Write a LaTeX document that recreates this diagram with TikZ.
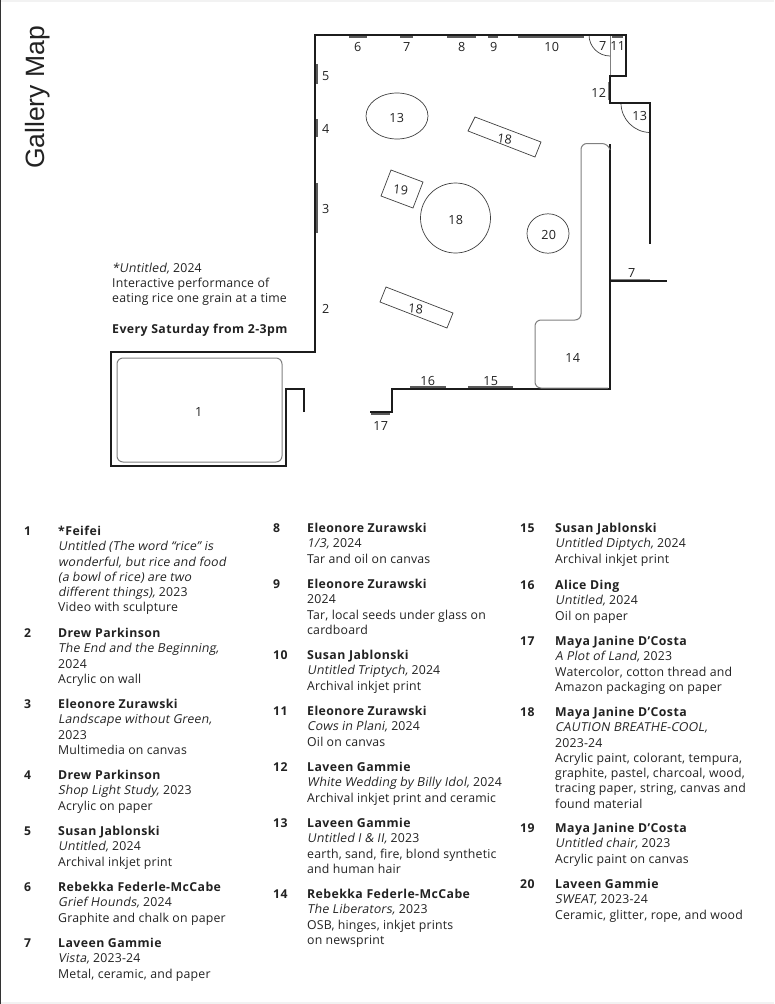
\documentclass[tikz,border=0pt]{standalone}
\usepackage{fontspec}
\setmainfont[LetterSpace=1.5,ItalicFont={Open Sans},ItalicFeatures={FakeSlant=0.18},BoldFeatures={LetterSpace=3.5}]{Open Sans}
\newfontfamily\titlefont{Liberation Sans}
\definecolor{wall}{HTML}{1C1C1C}
\definecolor{bar}{HTML}{5A5A5A}
\definecolor{ink}{HTML}{222222}
\tikzset{
  wallline/.style={draw=wall,line width=2.6pt,miter limit=10},
  barline/.style={draw=bar,line width=2.2pt},
  bench/.style={draw=black!50,line width=1pt},
  thinshape/.style={draw=black!75,line width=0.7pt},
  maplabel/.style={text=ink,font=\fontsize{12.6}{14}\selectfont,inner sep=0pt,xshift=0.7pt,yshift=-0.7pt},
  numlabel/.style={text=ink,font=\fontsize{12.2}{15.3}\selectfont\bfseries,inner sep=0pt,anchor=base west},
  entrytext/.style={text=ink,font=\fontsize{12.3}{15.3}\selectfont,inner sep=0pt,anchor=north west,align=left},
}
\newcommand{\lentry}[5]{% id, numx, textx, first-line centre y, text
  \node[numlabel] (num#1) at (#2,#4+5.2) {#1};
  \node[entrytext] (txt#1) at (#3,#4-4.8) {\rule{0pt}{10pt}#5};
}
\begin{document}
\begin{tikzpicture}[x=1pt,y=-1pt]
\useasboundingbox (0,0) rectangle (774,1004);
\fill[white] (0,0) rectangle (774,1004);
\fill[black!5] (0,0) rectangle (774,2);
\fill[black!5] (0,1002) rectangle (774,1004);
\fill[black!80] (0,0) rectangle (1,1004);

% title
\node[rotate=90,text=ink,inner sep=0pt,anchor=base,font=\titlefont\fontsize{26.5}{30}\selectfont] (title) at (44.5,97.5) {Gallery Map};

% thin interior lines
\draw[bench] (610,35) -- (610,76);
\draw[thinshape] (589,35) arc[start angle=180,end angle=90,radius=21];
\draw[thinshape] (621,103) arc[start angle=180,end angle=90,radius=29.5];

% wall-mounted works
\draw[barline] (349,37) -- (367,37);
\draw[barline] (400,37) -- (413,37);
\draw[barline] (447,37) -- (476,37);
\draw[barline] (488,37) -- (498,37);
\draw[barline] (518,37) -- (584,37);
\draw[barline] (612,37) -- (623,37);
\draw[barline] (317,64) -- (317,84);
\draw[barline] (317,119) -- (317,137);
\draw[barline] (317,183) -- (317,233);
\draw[bench] (608.5,82) -- (608.5,100);
\draw[bench] (611,279.5) -- (650,279.5);
\draw[barline] (410,387) -- (446,387);
\draw[barline] (468,387) -- (513,387);
\draw[barline] (371,413.5) -- (390,413.5);

% walls
\draw[wallline] (304,412) -- (304,389) -- (286,389) -- (286,466) -- (111,466) -- (111,352) -- (315,352) -- (315,35) -- (626,35) -- (626,76) -- (610,76) -- (610,103) -- (650,103) -- (650,244);
\draw[wallline] (370,412) -- (392,412) -- (392,389) -- (610,389) -- (610,144);
\draw[wallline] (610,281) -- (667,281);

% platforms
\draw[bench,rounded corners=6pt] (117,358) rectangle (282,462);
\draw[bench,rounded corners=6pt] (610,150) -- (608,143.5) -- (581,143.5) -- (581,320) -- (535,320) -- (535,388) -- (608,388);

% sculptures
\draw[thinshape] (397,116) ellipse[x radius=31,y radius=23];
\draw[thinshape] (455.5,218) circle[radius=35];
\draw[thinshape] (548,233.5) ellipse[x radius=21,y radius=19.7];
\draw[thinshape] (475,117) -- (541,142) -- (535,157) -- (468,131) -- cycle;
\draw[thinshape] (391,170) -- (423,182) -- (413,208) -- (381,196) -- cycle;
\draw[thinshape] (386,287) -- (453,313) -- (447,328) -- (380,302) -- cycle;

% map labels
\node[maplabel] (m6) at (357,46) {6};
\node[maplabel] (m7a) at (406,46) {7};
\node[maplabel] (m8) at (461,46) {8};
\node[maplabel] (m9) at (493,46) {9};
\node[maplabel] (m10) at (551,46) {10};
\node[maplabel] (m7b) at (602,45) {7};
\node[maplabel] (m11) at (617,45) {11};
\node[maplabel] (m5) at (325,75) {5};
\node[maplabel] (m4) at (325,128) {4};
\node[maplabel] (m3) at (325,208) {3};
\node[maplabel] (m2) at (325,308) {2};
\node[maplabel] (m13a) at (396,117) {13};
\node[maplabel,rotate=-8] (m18a) at (504,138) {18};
\node[maplabel] (m12) at (598,92) {12};
\node[maplabel] (m13b) at (639,115) {13};
\node[maplabel,rotate=-6] (m19) at (400,189) {19};
\node[maplabel] (m18b) at (455,219) {18};
\node[maplabel] (m20) at (548,234) {20};
\node[maplabel,rotate=-6] (m18c) at (415,308) {18};
\node[maplabel] (m7c) at (631,272) {7};
\node[maplabel] (m14) at (572,357) {14};
\node[maplabel] (m1) at (198,411) {1};
\node[maplabel] (m16) at (427,380) {16};
\node[maplabel] (m15) at (490,380) {15};
\node[maplabel] (m17) at (380,425) {17};

% performance note
\node[entrytext] (note) at (112,262) {\rule{0pt}{10pt}\textit{*Untitled,} 2024\\Interactive performance of\\eating rice one grain at a time\\[15.3pt]\textbf{Every Saturday from 2-3pm}};

% column 1
\lentry{1}{24}{58}{530}{\textbf{*Feifei}\\\textit{Untitled (The word “rice” is}\\\textit{wonderful, but rice and food}\\\textit{(a bowl of rice) are two}\\\textit{different things),} 2023\\Video with sculpture}
\lentry{2}{24}{58}{632}{\textbf{Drew Parkinson}\\\textit{The End and the Beginning,}\\2024\\Acrylic on wall}
\lentry{3}{24}{58}{703}{\textbf{Eleonore Zurawski}\\\textit{Landscape without Green,}\\2023\\Multimedia on canvas}
\lentry{4}{24}{58}{774}{\textbf{Drew Parkinson}\\\textit{Shop Light Study,} 2023\\Acrylic on paper}
\lentry{5}{24}{58}{830}{\textbf{Susan Jablonski}\\\textit{Untitled,} 2024\\Archival inkjet print}
\lentry{6}{24}{58}{886}{\textbf{Rebekka Federle-McCabe}\\\textit{Grief Hounds,} 2024\\Graphite and chalk on paper}
\lentry{7}{24}{58}{942}{\textbf{Laveen Gammie}\\\textit{Vista,} 2023-24\\Metal, ceramic, and paper}

% column 2
\lentry{8}{273}{307}{527}{\textbf{Eleonore Zurawski}\\\textit{1/3,} 2024\\Tar and oil on canvas}
\lentry{9}{273}{307}{583}{\textbf{Eleonore Zurawski}\\2024\\Tar, local seeds under glass on\\cardboard}
\lentry{10}{273}{307}{654}{\textbf{Susan Jablonski}\\\textit{Untitled Triptych,} 2024\\Archival inkjet print}
\lentry{11}{273}{307}{710}{\textbf{Eleonore Zurawski}\\\textit{Cows in Plani,} 2024\\Oil on canvas}
\lentry{12}{273}{307}{766}{\textbf{Laveen Gammie}\\\textit{White Wedding by Billy Idol,} 2024\\Archival inkjet print and ceramic}
\lentry{13}{273}{307}{822}{\textbf{Laveen Gammie}\\\textit{Untitled I \& II,} 2023\\earth, sand, fire, blond synthetic\\and human hair}
\lentry{14}{273}{307}{893}{\textbf{Rebekka Federle-McCabe}\\\textit{The Liberators,} 2023\\OSB, hinges, inkjet prints\\on newsprint}

% column 3
\lentry{15}{520}{555}{527}{\textbf{Susan Jablonski}\\\textit{Untitled Diptych,} 2024\\Archival inkjet print}
\lentry{16}{520}{555}{584}{\textbf{Alice Ding}\\\textit{Untitled,} 2024\\Oil on paper}
\lentry{17}{520}{555}{640}{\textbf{Maya Janine D’Costa}\\\textit{A Plot of Land,} 2023\\Watercolor, cotton thread and\\Amazon packaging on paper}
\lentry{18}{520}{555}{711}{\textbf{Maya Janine D’Costa}\\\textit{CAUTION BREATHE-COOL,}\\2023-24\\Acrylic paint, colorant, tempura,\\graphite, pastel, charcoal, wood,\\tracing paper, string, canvas and\\found material}
\lentry{19}{520}{555}{827}{\textbf{Maya Janine D’Costa}\\\textit{Untitled chair,} 2023\\Acrylic paint on canvas}
\lentry{20}{520}{555}{883}{\textbf{Laveen Gammie}\\\textit{SWEAT,} 2023-24\\Ceramic, glitter, rope, and wood}
\end{tikzpicture}
\end{document}
